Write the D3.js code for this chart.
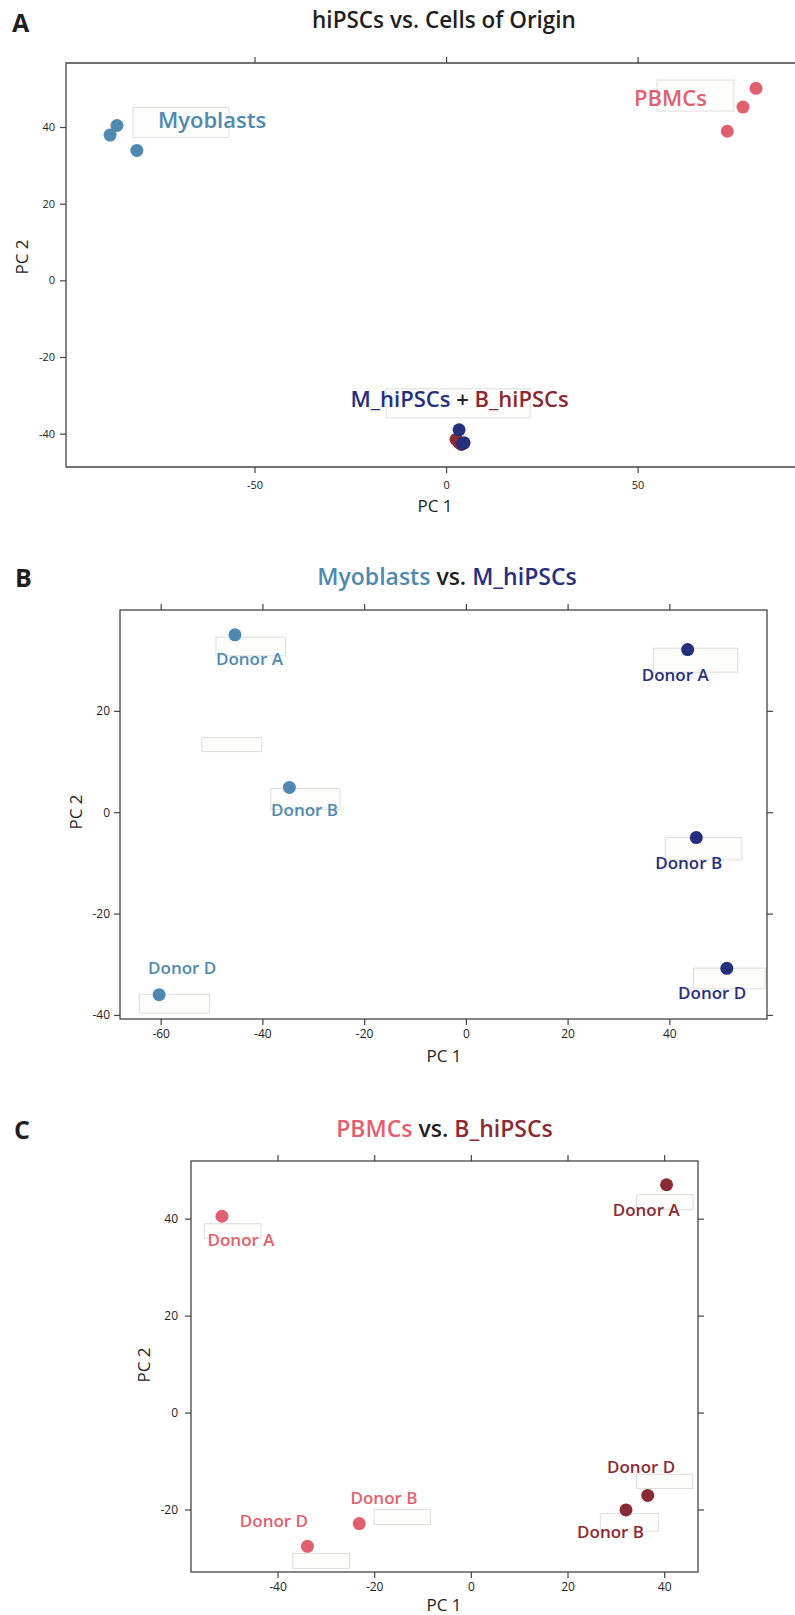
<!DOCTYPE html>
<html>
<head>
<meta charset="utf-8">
<script src="https://cdn.jsdelivr.net/npm/d3@7"></script>
<style>
    body { margin: 0; background: #fff; }
    svg text { font-family: "Open Sans", sans-serif; }
</style>
</head>
<body>
<div id="chart"></div>
<script>
// ---- data (PC1, PC2 per sample) ----
const donors = ["Donor A", "Donor B", "Donor D"];

// panel A: all samples
const pcaA_myoblasts = [{ pc1: -87.7, pc2: 37.9 }, { pc1: -85.9, pc2: 40.4 }, { pc1: -80.7, pc2: 33.9 }];
const pcaA_pbmcs = [{ pc1: 80.9, pc2: 50.1 }, { pc1: 77.5, pc2: 45.2 }, { pc1: 73.4, pc2: 38.9 }];
const pcaA_bHipscs = [{ pc1: 2.6, pc2: -41.5 }, { pc1: 3.3, pc2: -42.3 }, { pc1: 4.0, pc2: -42.8 }];
const pcaA_mHipscs = [{ pc1: 3.4, pc2: -39.0 }, { pc1: 4.7, pc2: -42.4 }, { pc1: 4.3, pc2: -42.6 }];

// panel B: myoblasts vs M_hiPSCs (order = donors)
const pcaB_myoblasts = [{ pc1: -45.4, pc2: 35.0 }, { pc1: -34.7, pc2: 4.9 }, { pc1: -60.3, pc2: -36.0 }];
const pcaB_mHipscs = [{ pc1: 43.6, pc2: 32.1 }, { pc1: 45.3, pc2: -5.0 }, { pc1: 51.3, pc2: -30.8 }];

// panel C: PBMCs vs B_hiPSCs (order = donors)
const pcaC_pbmcs = [{ pc1: -51.5, pc2: 40.5 }, { pc1: -23.1, pc2: -22.9 }, { pc1: -33.8, pc2: -27.6 }];
const pcaC_bHipscs = [{ pc1: 40.5, pc2: 47.0 }, { pc1: 32.1, pc2: -20.1 }, { pc1: 36.6, pc2: -17.1 }];

// tick values
const ticksA_x = [-50, 0, 50];
const ticksA_y = [-40, -20, 0, 20, 40];
const ticksB_x = [-60, -40, -20, 0, 20, 40];
const ticksB_y = [-40, -20, 0, 20];
const ticksC_x = [-40, -20, 0, 20, 40];
const ticksC_y = [-20, 0, 20, 40];

// colours
const colors = {
    myoblasts: "#4f89b0",
    mHipscs: "#262f7b",
    pbmcs: "#e1606f",
    bHipscs: "#8a2a35",
    ink: "#1f1f1f",
    axis: "#444"
};

const svg = d3.select("#chart")
    .append("svg")
    .attr("width", 795)
    .attr("height", 1615);

class PcaPanel {
    constructor(svg, cfg) {
        this.svg = svg;
        this.cfg = cfg;
        this.initVis();
    }

    initVis() {
        const vis = this;
        const c = vis.cfg;

        vis.g = vis.svg.append("g");

        vis.x = d3.scaleLinear().domain(c.xDomain).range([c.left, c.right]);
        vis.y = d3.scaleLinear().domain(c.yDomain).range([c.bottom, c.top]);

        // panel letter
        vis.g.append("text")
            .attr("x", c.letterX)
            .attr("y", c.letterY)
            .attr("font-size", 25)
            .attr("font-weight", 700)
            .attr("fill", colors.ink)
            .text(c.letter);

        // title (coloured pieces)
        const title = vis.g.append("text")
            .attr("x", c.titleX)
            .attr("y", c.titleY)
            .attr("text-anchor", "middle")
            .attr("font-size", c.titleSize)
            .attr("font-weight", 600);
        c.title.forEach(p => {
            title.append("tspan").attr("fill", p.color).text(p.text);
        });

        // frame
        if (c.openRight) {
            vis.g.append("path")
                .attr("d", `M${c.right},${c.top}H${c.left}V${c.bottom}H${c.right}`)
                .attr("fill", "none")
                .attr("stroke", colors.axis)
                .attr("stroke-width", 1.3);
        } else {
            vis.g.append("rect")
                .attr("x", c.left)
                .attr("y", c.top)
                .attr("width", c.right - c.left)
                .attr("height", c.bottom - c.top)
                .attr("fill", "none")
                .attr("stroke", colors.axis)
                .attr("stroke-width", 1.3);
        }

        const styleAxis = g => {
            g.select(".domain").remove();
            g.selectAll(".tick line").attr("stroke", colors.axis).attr("stroke-width", 1.2);
            g.selectAll(".tick text").attr("fill", "#222");
            g.attr("font-family", null).attr("font-size", c.tickFont);
        };

        vis.g.append("g")
            .attr("transform", `translate(0,${c.bottom})`)
            .call(d3.axisBottom(vis.x).tickValues(c.ticksX).tickSize(6).tickPadding(c.xPad).tickFormat(d => String(d)))
            .call(styleAxis);
        vis.g.append("g")
            .attr("transform", `translate(0,${c.top})`)
            .call(d3.axisTop(vis.x).tickValues(c.ticksX).tickSize(6).tickFormat(""))
            .call(styleAxis);
        vis.g.append("g")
            .attr("transform", `translate(${c.left},0)`)
            .call(d3.axisLeft(vis.y).tickValues(c.ticksY).tickSize(6).tickPadding(c.yPad).tickFormat(d => String(d)))
            .call(styleAxis);
        if (!c.openRight) {
            vis.g.append("g")
                .attr("transform", `translate(${c.right},0)`)
                .call(d3.axisRight(vis.y).tickValues(c.ticksY).tickSize(6).tickFormat(""))
                .call(styleAxis);
        }

        // axis titles
        vis.g.append("text")
            .attr("x", c.pc1X)
            .attr("y", c.pc1Y)
            .attr("text-anchor", "middle")
            .attr("font-size", 17)
            .attr("fill", colors.ink)
            .text("PC 1");
        vis.g.append("text")
            .attr("transform", `translate(${c.pc2X},${c.pc2Y}) rotate(-90)`)
            .attr("text-anchor", "middle")
            .attr("font-size", 17)
            .attr("fill", colors.ink)
            .text("PC 2");

        vis.labelLayer = vis.g.append("g");
        vis.dotLayer = vis.g.append("g");
        vis.textLayer = vis.g.append("g");

        c.series.forEach(s => vis.drawSeries(s));
        (c.groupLabels || []).forEach(l => vis.drawGroupLabel(l));
    }

    drawSeries(s) {
        const vis = this;

        vis.dotLayer.selectAll(null)
            .data(s.data)
            .enter()
            .append("circle")
            .attr("cx", d => vis.x(d.pc1))
            .attr("cy", d => vis.y(d.pc2))
            .attr("r", 6.5)
            .attr("fill", s.color);

        if (!s.labels) return;

        // leftover placement boxes (faint)
        vis.labelLayer.selectAll(null)
            .data(s.data)
            .enter()
            .append("rect")
            .attr("x", (d, i) => vis.x(d.pc1) + s.labels[i].box[0])
            .attr("y", (d, i) => vis.y(d.pc2) + s.labels[i].box[2])
            .attr("width", (d, i) => s.labels[i].box[1] - s.labels[i].box[0])
            .attr("height", (d, i) => s.labels[i].box[3] - s.labels[i].box[2])
            .attr("fill", "#fdfdfb")
            .attr("stroke", "#dedede")
            .attr("stroke-width", 1);

        (s.extraBoxes || []).forEach(b => {
            const d = s.data[b.at];
            vis.labelLayer.append("rect")
                .attr("x", vis.x(d.pc1) + b.box[0])
                .attr("y", vis.y(d.pc2) + b.box[2])
                .attr("width", b.box[1] - b.box[0])
                .attr("height", b.box[3] - b.box[2])
                .attr("fill", "#fdfdfb")
                .attr("stroke", "#dedede")
                .attr("stroke-width", 1);
        });

        vis.textLayer.selectAll(null)
            .data(s.data)
            .enter()
            .append("text")
            .attr("x", (d, i) => vis.x(d.pc1) + s.labels[i].dx)
            .attr("y", (d, i) => vis.y(d.pc2) + s.labels[i].dy)
            .attr("text-anchor", "middle")
            .attr("font-size", 17)
            .attr("font-weight", 600)
            .attr("fill", s.color)
            .text((d, i) => s.names[i]);
    }

    drawGroupLabel(l) {
        const vis = this;
        const d = l.data[l.at];
        const px = vis.x(d.pc1), py = vis.y(d.pc2);

        vis.labelLayer.append("rect")
            .attr("x", px + l.box[0])
            .attr("y", py + l.box[2])
            .attr("width", l.box[1] - l.box[0])
            .attr("height", l.box[3] - l.box[2])
            .attr("fill", "#fdfdfb")
            .attr("stroke", "#dedede")
            .attr("stroke-width", 1);

        const t = vis.textLayer.append("text")
            .attr("x", px + l.dx)
            .attr("y", py + l.dy)
            .attr("text-anchor", l.anchor)
            .attr("font-size", 22)
            .attr("font-weight", 600);
        l.parts.forEach(p => t.append("tspan").attr("fill", p.color).text(p.text));
    }
}

// ---- panel A ----
new PcaPanel(svg, {
    letter: "A", letterX: 12, letterY: 32,
    title: [{ text: "hiPSCs vs. Cells of Origin", color: colors.ink }],
    titleX: 444, titleY: 28, titleSize: 22.5,
    left: 66, right: 797, top: 63, bottom: 467,
    xDomain: [-99.2, 91.6], yDomain: [-48.7, 56.7],
    ticksX: ticksA_x, ticksY: ticksA_y,
    tickFont: 11, xPad: 8, yPad: 5,
    openRight: true,
    pc1X: 435, pc1Y: 512, pc2X: 28, pc2Y: 257,
    series: [
        { data: pcaA_myoblasts, color: colors.myoblasts },
        { data: pcaA_pbmcs, color: colors.pbmcs },
        { data: pcaA_bHipscs, color: colors.bHipscs },
        { data: pcaA_mHipscs, color: colors.mHipscs }
    ],
    groupLabels: [
        { data: pcaA_myoblasts, at: 1, dx: 41, dy: 3, anchor: "start", box: [16, 112, -18, 12],
          parts: [{ text: "Myoblasts", color: colors.myoblasts }] },
        { data: pcaA_pbmcs, at: 1, dx: -36, dy: -1, anchor: "end", box: [-86, -9, -27, 4],
          parts: [{ text: "PBMCs", color: colors.pbmcs }] },
        { data: pcaA_mHipscs, at: 0, dx: 0.5, dy: -23, anchor: "middle", box: [-73, 71, -41, -12],
          parts: [
              { text: "M_hiPSCs", color: colors.mHipscs },
              { text: " + ", color: colors.ink },
              { text: "B_hiPSCs", color: colors.bHipscs }
          ] }
    ]
});

// ---- panel B ----
new PcaPanel(svg, {
    letter: "B", letterX: 15, letterY: 587,
    title: [
        { text: "Myoblasts", color: colors.myoblasts },
        { text: " vs. ", color: colors.ink },
        { text: "M_hiPSCs", color: colors.mHipscs }
    ],
    titleX: 447, titleY: 585, titleSize: 23,
    left: 120, right: 767, top: 610, bottom: 1019,
    xDomain: [-68.0, 59.2], yDomain: [-40.8, 39.9],
    ticksX: ticksB_x, ticksY: ticksB_y,
    tickFont: 12, xPad: 4, yPad: 4,
    openRight: false,
    pc1X: 444, pc1Y: 1062, pc2X: 82, pc2Y: 812,
    series: [
        { data: pcaB_myoblasts, color: colors.myoblasts, names: donors,
          labels: [
              { dx: 14.5, dy: 30, box: [-19, 50.5, 2.4, 21] },
              { dx: 15.2, dy: 28.5, box: [-18.6, 50.7, 1.2, 22] },
              { dx: 23, dy: -20.8, box: [-19.8, 50.2, -0.5, 18.5] }
          ],
          extraBoxes: [{ at: 1, box: [-87.6, -27.6, -49.8, -35.8] }] },
        { data: pcaB_mHipscs, color: colors.mHipscs, names: donors,
          labels: [
              { dx: -12.4, dy: 31.4, box: [-34, 50, -1.3, 22.7] },
              { dx: -7.6, dy: 31.6, box: [-31, 45.7, 0, 22.3] },
              { dx: -14.6, dy: 30.8, box: [-33.3, 38.4, -0.2, 20.5] }
          ] }
    ]
});

// ---- panel C ----
new PcaPanel(svg, {
    letter: "C", letterX: 14, letterY: 1139,
    title: [
        { text: "PBMCs", color: colors.pbmcs },
        { text: " vs. ", color: colors.ink },
        { text: "B_hiPSCs", color: colors.bHipscs }
    ],
    titleX: 444.5, titleY: 1137, titleSize: 23,
    left: 191, right: 698, top: 1161, bottom: 1572,
    xDomain: [-57.9, 47.0], yDomain: [-32.9, 51.9],
    ticksX: ticksC_x, ticksY: ticksC_y,
    tickFont: 12, xPad: 4, yPad: 7,
    openRight: false,
    pc1X: 444, pc1Y: 1611, pc2X: 150, pc2Y: 1365,
    series: [
        { data: pcaC_pbmcs, color: colors.pbmcs, names: donors,
          labels: [
              { dx: 19.1, dy: 29.8, box: [-17.6, 39.1, 7.4, 21.8] },
              { dx: 24.8, dy: -19.4, box: [15, 71.3, -14.1, 0.9] },
              { dx: -33.5, dy: -19.5, box: [-14.8, 42, 7.1, 22.1] }
          ] },
        { data: pcaC_bHipscs, color: colors.bHipscs, names: donors,
          labels: [
              { dx: -20.4, dy: 31.3, box: [-30, 26.6, 9.9, 24.9] },
              { dx: -15.4, dy: 28.5, box: [-25.7, 32.7, 3.5, 21.2] },
              { dx: -6.6, dy: -22.5, box: [-11.3, 45.1, -21.2, -6.9] }
          ] }
    ]
});
</script>
</body>
</html>
